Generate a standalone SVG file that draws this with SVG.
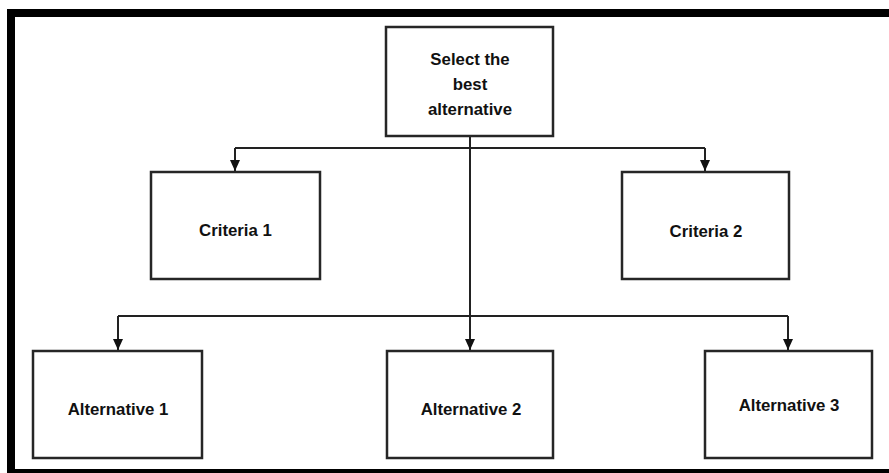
<svg xmlns="http://www.w3.org/2000/svg" width="889" height="473" viewBox="0 0 889 473">
<style>
.box{fill:#fff;stroke:#262626;stroke-width:2.5}
.lbl{font-family:"Liberation Sans",Arial,sans-serif;font-weight:bold;font-size:16.8px;fill:#111;text-anchor:middle}
.con{fill:none;stroke:#222;stroke-width:2}
</style>
<defs>
<marker id="ah" markerUnits="userSpaceOnUse" markerWidth="10" markerHeight="11" refX="5" refY="11" orient="0" viewBox="0 0 10 11">
<path d="M0,0 L10,0 L5,11 Z" fill="#111"/>
</marker>
</defs>
<rect width="889" height="473" fill="#fff"/>
<g id="frame">
<path d="M11,473 V13 H889" fill="none" stroke="#000" stroke-width="8"/>
<rect x="7" y="469" width="882" height="4" fill="#000"/>
</g>
<g id="connectors">
<path class="con" d="M470,136 V350" marker-end="url(#ah)"/>
<path class="con" d="M235,148 H705"/>
<path class="con" d="M235,148 V171" marker-end="url(#ah)"/>
<path class="con" d="M705,148 V171" marker-end="url(#ah)"/>
<path class="con" d="M118,316 H788"/>
<path class="con" d="M118,316 V350" marker-end="url(#ah)"/>
<path class="con" d="M788,316 V350" marker-end="url(#ah)"/>
</g>
<g id="top">
<rect class="box" x="386" y="27" width="167" height="109"/>
<text class="lbl" x="470" y="65">Select the</text>
<text class="lbl" x="470" y="90">best</text>
<text class="lbl" x="470" y="115">alternative</text>
</g>
<g id="criteria1">
<rect class="box" x="151" y="172" width="169" height="107"/>
<text class="lbl" x="235.5" y="236">Criteria 1</text>
</g>
<g id="criteria2">
<rect class="box" x="622" y="172" width="167" height="107"/>
<text class="lbl" x="706" y="236.5">Criteria 2</text>
</g>
<g id="alt1">
<rect class="box" x="33" y="351" width="169" height="107"/>
<text class="lbl" x="118" y="415">Alternative 1</text>
</g>
<g id="alt2">
<rect class="box" x="387" y="351" width="166" height="107"/>
<text class="lbl" x="471" y="415">Alternative 2</text>
</g>
<g id="alt3">
<rect class="box" x="705" y="351" width="167" height="107"/>
<text class="lbl" x="789" y="411">Alternative 3</text>
</g>
</svg>
